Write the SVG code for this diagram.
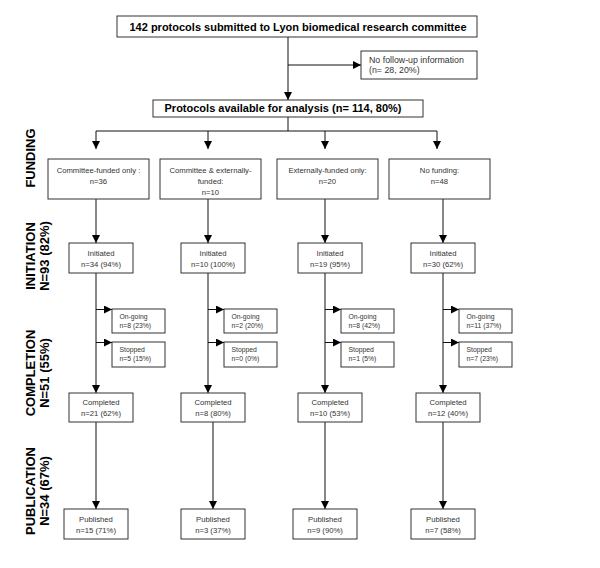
<svg xmlns="http://www.w3.org/2000/svg" width="600" height="568" viewBox="0 0 600 568">
<defs>
<marker id="ah" viewBox="0 0 10 10" refX="10" refY="5" markerWidth="8" markerHeight="8" markerUnits="userSpaceOnUse" orient="auto">
<path d="M0,0 L10,5 L0,10 z" fill="#000"/>
</marker>
<style>
.box{fill:#fff;stroke:#333;stroke-width:1}
.ln{fill:none;stroke:#111;stroke-width:1}
.ar{fill:none;stroke:#111;stroke-width:1;marker-end:url(#ah)}
.t{font-family:"Liberation Sans",Arial,sans-serif;font-size:7.7px;fill:#333;text-anchor:middle}
.s{font-family:"Liberation Sans",Arial,sans-serif;font-size:6.8px;fill:#333}
.f{font-family:"Liberation Sans",Arial,sans-serif;font-size:8.8px;fill:#333}
.b{font-family:"Liberation Sans",Arial,sans-serif;font-size:11px;font-weight:bold;fill:#000;text-anchor:middle}
.lab{font-family:"Liberation Sans",Arial,sans-serif;font-size:13px;font-weight:bold;fill:#000;text-anchor:middle}
</style>
</defs>
<rect width="600" height="568" fill="#fff"/>

<g id="connectors">
<path class="ln" d="M288,37 V65"/>
<path class="ar" d="M288,65 V100"/>
<path class="ar" d="M288,65 H361"/>
<path class="ln" d="M288,117 V131 M96,131 H437"/>
<path class="ar" d="M96,131 V149"/>
<path class="ar" d="M208,131 V149"/>
<path class="ar" d="M325,131 V149"/>
<path class="ar" d="M437,131 V149"/>
<path class="ar" d="M96,199 V243"/>
<path class="ar" d="M208,199 V243"/>
<path class="ar" d="M325,199 V243"/>
<path class="ar" d="M443,199 V243"/>
<path class="ar" d="M96,273 V393"/>
<path class="ar" d="M208,273 V393"/>
<path class="ar" d="M325,273 V393"/>
<path class="ar" d="M443,273 V393"/>
<path class="ar" d="M96,309.5 H112"/>
<path class="ar" d="M96,342.5 H112"/>
<path class="ar" d="M208,309.5 H224"/>
<path class="ar" d="M208,342.5 H224"/>
<path class="ar" d="M325,309.5 H341"/>
<path class="ar" d="M325,342.5 H341"/>
<path class="ar" d="M443,309.5 H459"/>
<path class="ar" d="M443,342.5 H459"/>
<path class="ar" d="M96,422 V509"/>
<path class="ar" d="M213,422 V509"/>
<path class="ar" d="M325,422 V509"/>
<path class="ar" d="M443,422 V509"/>
</g>

<g id="labels">
<text class="lab" transform="translate(35,158) rotate(-90)">FUNDING</text>
<text class="lab" transform="translate(35,256) rotate(-90)">INITIATION</text>
<text class="lab" transform="translate(49,256) rotate(-90)">N=93  (82%)</text>
<text class="lab" transform="translate(35,373) rotate(-90)">COMPLETION</text>
<text class="lab" transform="translate(49,373) rotate(-90)">N=51 (55%)</text>
<text class="lab" transform="translate(35,491) rotate(-90)">PUBLICATION</text>
<text class="lab" transform="translate(49,491) rotate(-90)">N=34 (67%)</text>
</g>

<g id="submitted">
<rect class="box" x="117" y="16" width="360" height="21"/>
<text class="b" x="298" y="31">142 protocols submitted to Lyon biomedical research committee</text>
</g>
<g id="nofollowup">
<rect class="box" x="361" y="51" width="116" height="28"/>
<text class="f" x="369" y="62.5">No follow-up information</text>
<text class="f" x="369" y="73">(n= 28, 20%)</text>
</g>
<g id="available">
<rect class="box" x="153" y="100" width="270" height="17"/>
<text class="b" x="283" y="112">Protocols available for analysis (n= 114, 80%)</text>
</g>

<g id="fund1"><rect class="box" x="48" y="159" width="101" height="40"/>
<text class="t" x="98.5" y="173">Committee-funded only :</text><text class="t" x="98.5" y="184">n=36</text></g>
<g id="fund2"><rect class="box" x="160" y="159" width="101" height="40"/>
<text class="t" x="210.5" y="173">Committee &amp; externally-</text><text class="t" x="210.5" y="184">funded:</text><text class="t" x="210.5" y="194.5">n=10</text></g>
<g id="fund3"><rect class="box" x="277" y="159" width="101" height="40"/>
<text class="t" x="327.5" y="173">Externally-funded only:</text><text class="t" x="327.5" y="184">n=20</text></g>
<g id="fund4"><rect class="box" x="389" y="159" width="101" height="40"/>
<text class="t" x="439.5" y="173">No funding:</text><text class="t" x="439.5" y="184">n=48</text></g>

<g id="init1"><rect class="box" x="69" y="243" width="64" height="30"/>
<text class="t" x="101" y="256">Initiated</text><text class="t" x="101" y="267">n=34 (94%)</text></g>
<g id="init2"><rect class="box" x="181" y="243" width="64" height="30"/>
<text class="t" x="213" y="256">Initiated</text><text class="t" x="213" y="267">n=10 (100%)</text></g>
<g id="init3"><rect class="box" x="298" y="243" width="64" height="30"/>
<text class="t" x="330" y="256">Initiated</text><text class="t" x="330" y="267">n=19 (95%)</text></g>
<g id="init4"><rect class="box" x="411" y="243" width="64" height="30"/>
<text class="t" x="443" y="256">Initiated</text><text class="t" x="443" y="267">n=30 (62%)</text></g>

<g id="ongo1"><rect class="box" x="112" y="309" width="53" height="24"/>
<text class="s" x="119.5" y="318.5">On-going</text><text class="s" x="119.5" y="327.5">n=8 (23%)</text></g>
<g id="ongo2"><rect class="box" x="224" y="309" width="53" height="24"/>
<text class="s" x="231.5" y="318.5">On-going</text><text class="s" x="231.5" y="327.5">n=2 (20%)</text></g>
<g id="ongo3"><rect class="box" x="341" y="309" width="53" height="24"/>
<text class="s" x="348.5" y="318.5">On-going</text><text class="s" x="348.5" y="327.5">n=8 (42%)</text></g>
<g id="ongo4"><rect class="box" x="459" y="309" width="53" height="24"/>
<text class="s" x="466.5" y="318.5">On-going</text><text class="s" x="466.5" y="327.5">n=11 (37%)</text></g>

<g id="stop1"><rect class="box" x="112" y="342" width="53" height="25"/>
<text class="s" x="119.5" y="351.5">Stopped</text><text class="s" x="119.5" y="360.5">n=5 (15%)</text></g>
<g id="stop2"><rect class="box" x="224" y="342" width="53" height="25"/>
<text class="s" x="231.5" y="351.5">Stopped</text><text class="s" x="231.5" y="360.5">n=0 (0%)</text></g>
<g id="stop3"><rect class="box" x="341" y="342" width="53" height="25"/>
<text class="s" x="348.5" y="351.5">Stopped</text><text class="s" x="348.5" y="360.5">n=1 (5%)</text></g>
<g id="stop4"><rect class="box" x="459" y="342" width="53" height="25"/>
<text class="s" x="466.5" y="351.5">Stopped</text><text class="s" x="466.5" y="360.5">n=7 (23%)</text></g>

<g id="comp1"><rect class="box" x="69" y="393" width="64" height="29"/>
<text class="t" x="101" y="405">Completed</text><text class="t" x="101" y="415.5">n=21 (62%)</text></g>
<g id="comp2"><rect class="box" x="181" y="393" width="64" height="29"/>
<text class="t" x="213" y="405">Completed</text><text class="t" x="213" y="415.5">n=8 (80%)</text></g>
<g id="comp3"><rect class="box" x="298" y="393" width="64" height="29"/>
<text class="t" x="330" y="405">Completed</text><text class="t" x="330" y="415.5">n=10 (53%)</text></g>
<g id="comp4"><rect class="box" x="416" y="393" width="64" height="29"/>
<text class="t" x="448" y="405">Completed</text><text class="t" x="448" y="415.5">n=12 (40%)</text></g>

<g id="pub1"><rect class="box" x="64" y="509" width="64" height="30"/>
<text class="t" x="96" y="522">Published</text><text class="t" x="96" y="533">n=15 (71%)</text></g>
<g id="pub2"><rect class="box" x="181" y="509" width="64" height="30"/>
<text class="t" x="213" y="522">Published</text><text class="t" x="213" y="533">n=3 (37%)</text></g>
<g id="pub3"><rect class="box" x="293" y="509" width="64" height="30"/>
<text class="t" x="325" y="522">Published</text><text class="t" x="325" y="533">n=9 (90%)</text></g>
<g id="pub4"><rect class="box" x="411" y="509" width="64" height="30"/>
<text class="t" x="443" y="522">Published</text><text class="t" x="443" y="533">n=7 (58%)</text></g>
</svg>
